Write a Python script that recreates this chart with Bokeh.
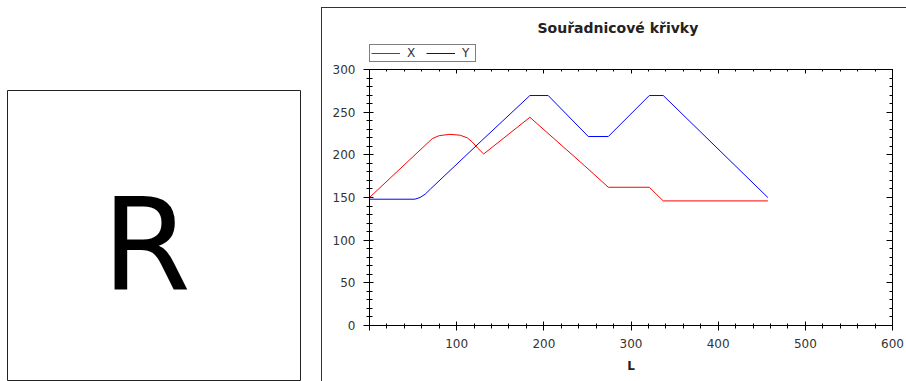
from bokeh.plotting import figure
from bokeh.models import Range1d, LinearAxis, SingleIntervalTicker, Legend, LegendItem, Spacer
from bokeh.layouts import row, column
from bokeh.core.properties import value
from bokeh.embed import file_html
from bokeh.resources import INLINE

# ---- data ----
L_x = [0, 72, 80, 92, 104, 112, 118, 124, 131, 184, 247, 274, 321, 337, 457]
X_vals = [150, 219, 222.5, 224, 223, 220, 215, 208, 201, 244, 187, 162, 162, 146, 146]
L_y = [0, 52, 58, 64, 70, 128, 184, 205, 251, 274, 321, 337, 457]
Y_vals = [148, 148, 150, 154, 160, 216, 269.5, 269.5, 221.5, 221.5, 269.5, 269.5, 150]
series_names = ["X", "Y"]
series_colors = ["#ff0000", "#0000ff"]
title_text = "Souřadnicové křivky"
x_label = "L"
box_letter = "R"

FONT = "DejaVu Sans"

# ---- left box with a big letter ----
rbox = figure(width=294, height=291, x_range=Range1d(0, 294), y_range=Range1d(291, 0),
              output_backend="svg", toolbar_location=None, min_border=0,
              x_axis_type=None, y_axis_type=None,
              outline_line_color="#222222", outline_line_width=1)
rbox.grid.visible = False
rbox.text(x=[139], y=[155], text=[box_letter], text_font=value(FONT), text_font_size="128px",
          text_align="center", text_baseline="alphabetic", text_color="black")

# ---- header (title + legend); its ranges keep the series out of view ----
header = figure(width=584, height=54, x_range=Range1d(-2, -1), y_range=Range1d(-2, -1),
                output_backend="svg", toolbar_location=None,
                x_axis_type=None, y_axis_type=None, outline_line_color=None,
                min_border_left=47, min_border_right=14, min_border_top=30, min_border_bottom=0)
header.grid.visible = False
header.title.text = title_text
header.title.text_font = FONT
header.title.text_font_size = "14px"
header.title.text_font_style = "bold"
header.title.text_color = "#222222"
header.title.align = "left"
header.title.offset = 168
header.title.standoff = 6

h1 = header.multi_line(xs=[L_x], ys=[X_vals], line_color=series_colors[0], line_width=1)
h2 = header.multi_line(xs=[L_y], ys=[Y_vals], line_color=series_colors[1], line_width=1)
legend = Legend(items=[LegendItem(label=series_names[0], renderers=[h1]),
                       LegendItem(label=series_names[1], renderers=[h2])],
                orientation="horizontal", location=(0, 0), margin=0, padding=1,
                spacing=7, label_standoff=7, glyph_width=29, glyph_height=10,
                label_height=10, label_width=12,
                label_text_font=FONT, label_text_font_size="12px", label_text_color="#333333",
                border_line_color="black", border_line_width=1, background_fill_alpha=0)
header.add_layout(legend, "center")

# ---- chart ----
p = figure(width=584, height=319, x_range=Range1d(0, 600), y_range=Range1d(0, 300),
           output_backend="svg", toolbar_location=None,
           x_axis_type=None, y_axis_type=None, outline_line_color=None,
           min_border_left=47, min_border_right=14, min_border_top=7, min_border_bottom=56)
p.grid.visible = False

def mk_axis(interval, **kw):
    ax = LinearAxis(ticker=SingleIntervalTicker(interval=interval, num_minor_ticks=5), **kw)
    ax.axis_line_color = "black"
    ax.major_tick_line_color = "black"
    ax.minor_tick_line_color = "black"
    ax.major_label_text_font = FONT
    ax.major_label_text_font_size = "12px"
    ax.major_label_text_color = "#333333"
    return ax

bottom = mk_axis(100, major_tick_in=4, major_tick_out=5, minor_tick_in=2, minor_tick_out=3,
                 major_label_standoff=8, major_label_overrides={0: ""})
bottom.axis_label = x_label
bottom.axis_label_text_font = FONT
bottom.axis_label_text_font_size = "12px"
bottom.axis_label_text_font_style = "bold"
bottom.axis_label_text_color = "#222222"
bottom.axis_label_standoff = 8
p.add_layout(bottom, "below")

left = mk_axis(50, major_tick_in=4, major_tick_out=6, minor_tick_in=3, minor_tick_out=3,
               major_label_standoff=8)
p.add_layout(left, "left")

top = mk_axis(100, major_tick_in=4, major_tick_out=0, minor_tick_in=2, minor_tick_out=0,
              major_label_standoff=-14)
top.major_label_text_alpha = 0
p.add_layout(top, "above")

right = mk_axis(50, major_tick_in=6, major_tick_out=0, minor_tick_in=3, minor_tick_out=0,
                major_label_standoff=-30)
right.major_label_text_alpha = 0
p.add_layout(right, "right")

p.line(L_x, X_vals, line_color=series_colors[0], line_width=1)
p.line(L_y, Y_vals, line_color=series_colors[1], line_width=1)

vbar = Spacer(width=1, height=373, styles={"background-color": "#333333"})
hbar = Spacer(width=585, height=1, styles={"background-color": "#333333"})
chart = column(hbar, row(vbar, column(header, p)))

layout = row(Spacer(width=7, height=10),
             column(Spacer(height=90, width=294), rbox),
             Spacer(width=20, height=10),
             column(Spacer(height=7, width=585), chart))

open("out.html", "w").write(file_html(layout, INLINE))
